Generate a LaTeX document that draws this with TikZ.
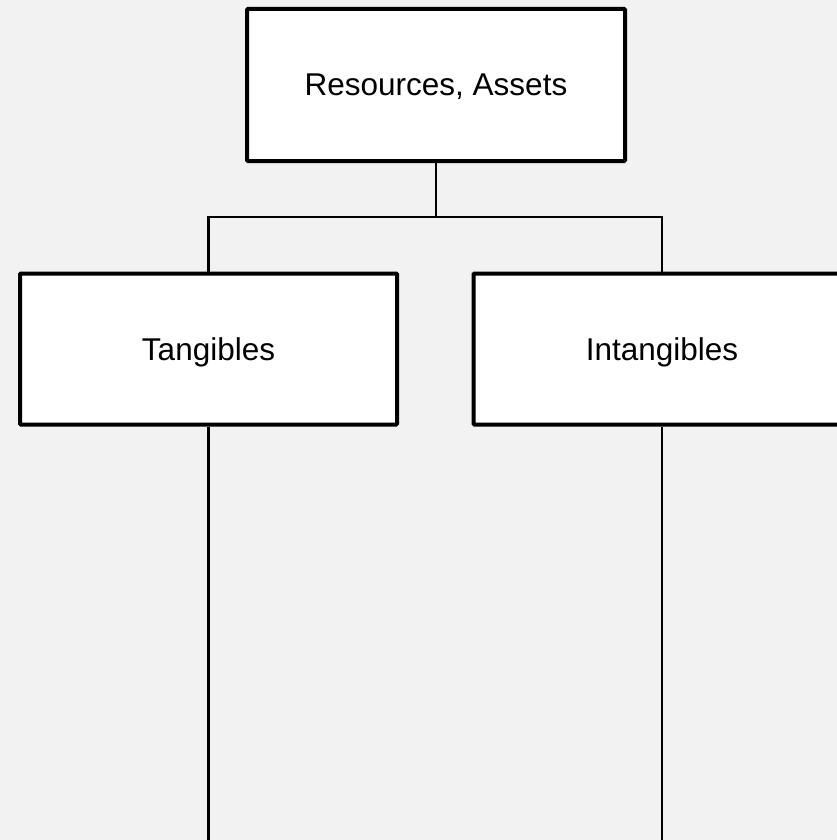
\documentclass[tikz,border=0pt]{standalone}
\usepackage{fontspec}
\setmainfont{Liberation Sans}
\definecolor{bggray}{HTML}{F2F2F2}
\begin{document}
\begin{tikzpicture}[x=1pt,y=-1pt,
  box/.style={draw,fill=white,line width=4pt,rounded corners=1pt,minimum width=377pt,minimum height=151pt,text depth=0pt,font=\fontsize{31.5}{36}\selectfont},
  link/.style={line width=2.6pt}]
\fill[bggray] (0,0) rectangle (837,840);
\useasboundingbox (0,0) rectangle (837,840);
%\draw (0,0) grid[step=100] (837,840);
\node[box,minimum width=378pt,minimum height=152pt] (res) at (436,85) {Resources, Assets};
\node[box] (tang) at (208.5,349) {Tangibles};
\node[box] (intang) at (662,349) {Intangibles};
\coordinate (split) at (436,217);
\coordinate (tangend) at (208.5,850);
\coordinate (intangend) at (662,850);
\draw[link] (res.south) -- (split) -| (tang.north);
\draw[link] (split) -| (intang.north);
\draw[link] (tang.south) -- (tangend);
\draw[link] (intang.south) -- (intangend);
\end{tikzpicture}
\end{document}
